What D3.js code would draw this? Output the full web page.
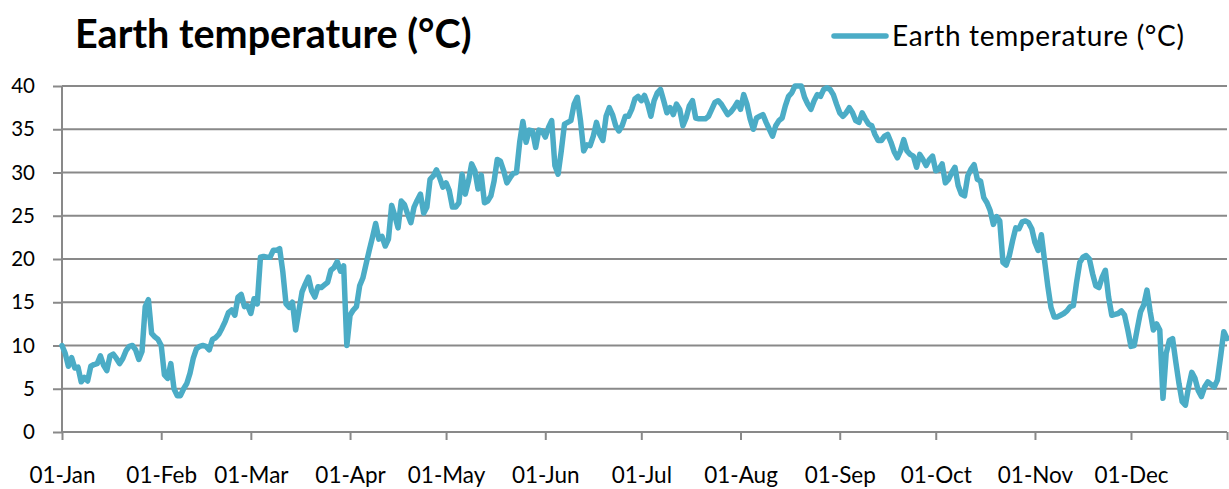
<!DOCTYPE html>
<html>
<head>
<meta charset="utf-8">
<script src="https://cdn.jsdelivr.net/npm/d3@7"></script>
<style>
  body { margin: 0; background: #fff; }
  svg { display: block; font-family: Lato, "Open Sans", sans-serif; }
</style>
</head>
<body>
<div id="chart"></div>
<script>
// daily readings, one array per month
const jan = [10.0, 9.1, 7.6, 8.6, 7.4, 7.5, 5.8, 6.3, 5.9, 7.6, 7.8, 7.9, 8.8, 7.7, 7.1, 8.8, 9.0, 8.5, 7.9, 8.5, 9.4, 9.9, 10.0, 9.5, 8.4, 9.3, 14.5, 15.3, 11.4, 11.0, 10.7];
const feb = [10.0, 6.6, 6.2, 7.9, 5.0, 4.2, 4.2, 5.0, 5.6, 6.8, 8.5, 9.6, 9.9, 10.0, 9.9, 9.5, 10.7, 10.9, 11.3, 12.0, 12.8, 13.8, 14.1, 13.5, 15.6, 15.9, 14.5, 14.6];
const mar = [13.7, 15.4, 14.8, 20.2, 20.3, 20.2, 20.2, 21.0, 21.0, 21.2, 18.5, 14.8, 14.4, 15.0, 11.8, 14.0, 16.2, 17.1, 17.9, 16.3, 15.6, 16.8, 16.7, 17.0, 17.3, 18.7, 19.0, 19.7, 18.6, 19.2, 10.0];
const apr = [13.5, 14.1, 14.5, 16.9, 17.8, 19.4, 21.0, 22.5, 24.1, 22.3, 22.6, 21.5, 22.3, 26.2, 25.0, 23.6, 26.7, 26.3, 25.2, 24.2, 26.0, 26.8, 27.5, 25.3, 26.0, 29.2, 29.6, 30.3, 29.4, 28.3];
const may = [28.8, 27.9, 26.0, 26.0, 26.5, 29.8, 27.5, 29.0, 31.0, 30.2, 28.1, 29.7, 26.5, 26.7, 27.3, 29.0, 31.5, 31.3, 30.2, 28.8, 29.4, 29.9, 30.0, 33.5, 35.9, 33.5, 34.9, 34.8, 32.9, 34.9, 34.8];
const jun = [34.1, 35.2, 36.0, 30.8, 29.8, 32.5, 35.6, 35.8, 36.0, 37.9, 38.7, 36.0, 32.5, 33.2, 33.1, 34.2, 35.8, 34.4, 33.7, 36.5, 37.5, 36.7, 35.4, 34.8, 35.4, 36.5, 36.5, 37.3, 38.5, 38.8];
const jul = [38.3, 38.9, 37.9, 36.5, 38.3, 39.2, 39.6, 38.3, 36.9, 37.5, 36.7, 37.9, 37.3, 35.4, 36.3, 37.7, 38.3, 36.3, 36.2, 36.2, 36.2, 36.5, 37.3, 38.1, 38.3, 37.9, 37.3, 36.7, 37.0, 37.5, 38.1];
const aug = [37.3, 39.0, 37.9, 36.2, 35.0, 36.3, 36.5, 36.7, 35.8, 35.0, 34.2, 35.4, 36.0, 36.3, 37.7, 38.8, 39.2, 40.0, 40.0, 40.0, 38.7, 37.9, 37.3, 38.3, 39.0, 38.8, 39.6, 39.8, 39.6, 39.0, 37.9];
const sep = [36.9, 36.5, 36.9, 37.5, 36.9, 36.0, 35.8, 36.9, 36.2, 35.6, 35.4, 34.4, 33.7, 33.7, 34.2, 34.4, 33.5, 32.4, 31.7, 32.5, 33.8, 32.5, 32.1, 31.9, 30.6, 32.1, 31.5, 30.8, 31.5, 31.9];
const oct = [30.2, 30.4, 31.0, 28.8, 29.2, 30.0, 30.6, 28.5, 27.5, 27.3, 29.6, 30.4, 30.9, 29.2, 29.0, 27.1, 26.5, 25.6, 24.0, 24.9, 24.4, 19.6, 19.3, 20.4, 22.1, 23.6, 23.5, 24.3, 24.4, 24.2, 23.5];
const nov = [21.9, 21.0, 22.8, 19.8, 16.9, 14.4, 13.3, 13.3, 13.5, 13.7, 14.0, 14.5, 14.6, 17.3, 19.6, 20.2, 20.4, 20.0, 18.3, 16.9, 16.7, 17.9, 18.7, 15.6, 13.5, 13.6, 13.7, 14.0, 13.5, 11.8];
const dec = [9.9, 10.0, 12.0, 13.9, 14.7, 16.4, 13.9, 11.8, 12.5, 11.8, 3.9, 9.1, 10.6, 10.8, 8.1, 5.6, 3.5, 3.1, 5.2, 6.9, 6.2, 4.8, 4.1, 5.2, 5.8, 5.5, 5.2, 6.0, 8.7, 11.6, 10.8];

const monthLabels = ["01-Jan", "01-Feb", "01-Mar", "01-Apr", "01-May", "01-Jun",
                     "01-Jul", "01-Aug", "01-Sep", "01-Oct", "01-Nov", "01-Dec"];
const yTicks = [0, 5, 10, 15, 20, 25, 30, 35, 40];
const seriesName = "Earth temperature (°C)";

function init() {
  const width = 1229, height = 489;
  const color = "#4BACC6";
  const gridColor = "#898989";

  const temps = [].concat(jan, feb, mar, apr, may, jun, jul, aug, sep, oct, nov, dec);
  const start = new Date(2021, 0, 1);
  const end = new Date(2021, 11, 31);
  const data = temps.map((t, i) => ({ date: d3.timeDay.offset(start, i), value: t }));

  const x = d3.scaleTime().domain([start, end]).range([62, 1227]);
  const y = d3.scaleLinear().domain([0, 40]).range([432, 86]);

  const svg = d3.select("#chart").append("svg")
      .attr("width", width)
      .attr("height", height);

  svg.append("rect").attr("width", width).attr("height", height).attr("fill", "#fff");

  // horizontal gridlines
  svg.append("g")
    .selectAll("line")
    .data(yTicks.filter(d => d > 0))
    .enter().append("line")
      .attr("x1", x.range()[0])
      .attr("x2", x.range()[1])
      .attr("y1", d => y(d))
      .attr("y2", d => y(d))
      .attr("stroke", gridColor)
      .attr("stroke-width", 2);

  // y axis
  const yAxis = svg.append("g")
      .attr("transform", "translate(62,0)")
      .call(d3.axisLeft(y).tickValues(yTicks).tickSize(9).tickPadding(18));
  yAxis.selectAll("line, path").attr("stroke", gridColor).attr("stroke-width", 2);
  yAxis.select("path").attr("d", "M0," + y(0) + "V" + y(40));
  yAxis.selectAll("text")
      .attr("font-size", 20.5)
      .attr("font-family", "Lato, sans-serif")
      .attr("fill", "#000");

  // x axis
  const monthTicks = d3.timeMonth.range(start, end).concat([end]);
  const xAxis = svg.append("g")
      .attr("transform", "translate(0," + y(0) + ")")
      .call(d3.axisBottom(x)
        .tickValues(monthTicks)
        .tickSize(8)
        .tickPadding(27)
        .tickFormat(d => d.getDate() === 1 ? monthLabels[d.getMonth()] : ""));
  xAxis.selectAll("line, path").attr("stroke", gridColor).attr("stroke-width", 2);
  xAxis.select("path").attr("d", "M" + x.range()[0] + ",0H" + x.range()[1]);
  xAxis.selectAll("text")
      .attr("font-size", 22.5)
      .attr("font-family", "Lato, sans-serif")
      .attr("fill", "#000");

  // the series
  const line = d3.line()
      .x(d => x(d.date))
      .y(d => y(d.value));

  svg.append("path")
      .datum(data)
      .attr("d", line)
      .attr("fill", "none")
      .attr("stroke", color)
      .attr("stroke-width", 5.5)
      .attr("stroke-linejoin", "round")
      .attr("stroke-linecap", "round");

  // title
  svg.append("text")
      .attr("x", 75)
      .attr("y", 48)
      .attr("font-size", 39.5)
      .attr("font-weight", "bold")
      .attr("font-family", "Lato, sans-serif")
      .text(seriesName);

  // legend
  const legend = svg.append("g");
  legend.append("line")
      .attr("x1", 834).attr("x2", 886)
      .attr("y1", 36).attr("y2", 36)
      .attr("stroke", color)
      .attr("stroke-width", 5.5)
      .attr("stroke-linecap", "round");
  legend.append("text")
      .attr("x", 892)
      .attr("y", 46)
      .attr("font-size", 28)
      .attr("font-family", "Lato, sans-serif")
      .attr("textLength", 292)
      .attr("lengthAdjust", "spacing")
      .text(seriesName);
}

window.onload = init;
</script>
</body>
</html>
